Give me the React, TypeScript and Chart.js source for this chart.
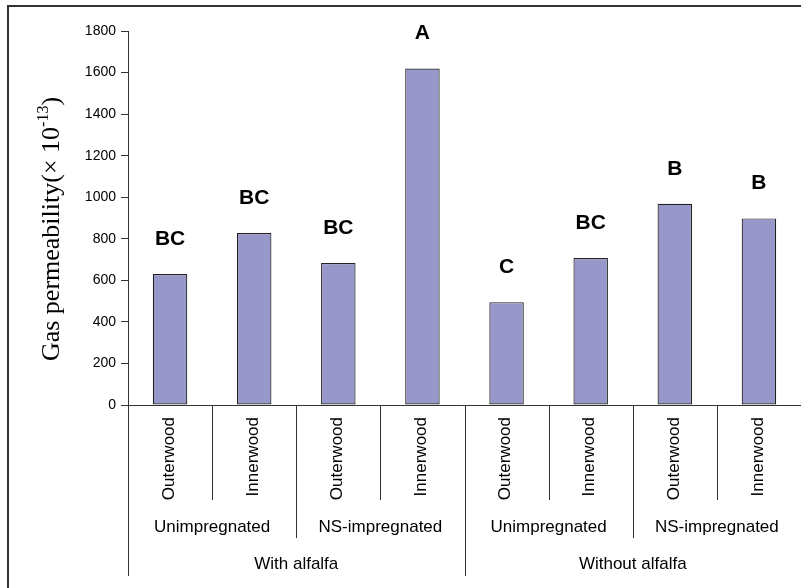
import React, { useEffect, useRef } from "react";
import { Chart, registerables } from "chart.js";

Chart.register(...registerables);

const categories = ["Outerwood", "Innerwood", "Outerwood", "Innerwood", "Outerwood", "Innerwood", "Outerwood", "Innerwood"];
const treatments = ["Unimpregnated", "Unimpregnated", "NS-impregnated", "NS-impregnated", "Unimpregnated", "Unimpregnated", "NS-impregnated", "NS-impregnated"];
const conditions = ["With alfalfa", "With alfalfa", "With alfalfa", "With alfalfa", "Without alfalfa", "Without alfalfa", "Without alfalfa", "Without alfalfa"];
const permeability = [630, 828, 683, 1619, 495, 707, 968, 898];
const letters = ["BC", "BC", "BC", "A", "C", "BC", "B", "B"];
const yMin = 0;
const yMax = 1800;
const yStep = 200;

const SANS = '"Liberation Sans", Arial, sans-serif';
const SERIF = '"Liberation Serif", "Times New Roman", serif';

function runs(arr: string[]) {
  const out: { label: string; start: number; end: number }[] = [];
  arr.forEach((v, i) => {
    const last = out[out.length - 1];
    if (last && last.label === v && last.end === i - 1) last.end = i;
    else out.push({ label: v, start: i, end: i });
  });
  return out;
}

const decorPlugin = {
  id: "decor",
  afterDraw(chart: any) {
    const { ctx, chartArea, scales } = chart;
    const x = scales.x;
    const y = scales.y;
    const n = categories.length;
    const cw = x.getPixelForValue(1) - x.getPixelForValue(0);
    const bx = (i: number) => x.getPixelForValue(0) - cw / 2 + i * cw;
    const y0 = y.getPixelForValue(0);
    ctx.save();

    // outer frame
    ctx.strokeStyle = "#333";
    ctx.lineWidth = 2;
    ctx.beginPath();
    ctx.moveTo(8, 588);
    ctx.lineTo(8, 6);
    ctx.lineTo(801, 6);
    ctx.stroke();

    // x axis line
    ctx.lineWidth = 1;
    ctx.strokeStyle = "#333";
    ctx.beginPath();
    ctx.moveTo(chartArea.left - 6, Math.round(y0) + 0.5);
    ctx.lineTo(chartArea.right, Math.round(y0) + 0.5);
    ctx.stroke();

    // separators
    const lvl1 = y0 + 95;
    const lvl2 = y0 + 133;
    const lvl3 = y0 + 171;
    for (let i = 0; i <= n; i++) {
      let bottom = lvl3;
      if (i > 0 && i < n) {
        if (conditions[i] !== conditions[i - 1]) bottom = lvl3;
        else if (treatments[i] !== treatments[i - 1]) bottom = lvl2;
        else bottom = lvl1;
      }
      const px = Math.round(bx(i)) + 0.5;
      ctx.beginPath();
      ctx.moveTo(px, y0);
      ctx.lineTo(px, bottom);
      ctx.stroke();
    }

    // wood labels (rotated)
    ctx.fillStyle = "#000";
    ctx.font = `17px ${SANS}`;
    categories.forEach((c, i) => {
      ctx.save();
      ctx.translate(x.getPixelForValue(i) - 1, y0 + 12);
      ctx.rotate(-Math.PI / 2);
      ctx.textAlign = "right";
      ctx.textBaseline = "middle";
      ctx.fillText(c, 0, 0);
      ctx.restore();
    });

    // group labels
    ctx.textAlign = "center";
    ctx.textBaseline = "middle";
    runs(treatments).forEach((r) => {
      const cx = (bx(r.start) + bx(r.end + 1)) / 2;
      ctx.fillText(r.label, cx, y0 + 122);
    });
    runs(conditions).forEach((r) => {
      const cx = (bx(r.start) + Math.min(bx(r.end + 1), 801)) / 2;
      ctx.fillText(r.label, cx, y0 + 159);
    });

    // significance letters
    ctx.font = `bold 21px ${SANS}`;
    letters.forEach((l, i) => {
      ctx.fillText(l, x.getPixelForValue(i), y.getPixelForValue(permeability[i]) - 35);
    });

    // y-axis title with superscript
    const main = "Gas permeability(× 10";
    const sup = "-13";
    const close = ")";
    ctx.font = `26px ${SERIF}`;
    const mw = ctx.measureText(main).width;
    const cwid = ctx.measureText(close).width;
    ctx.font = `16px ${SERIF}`;
    const sw = ctx.measureText(sup).width;
    const total = mw + sw + cwid;
    ctx.save();
    ctx.translate(59, 229);
    ctx.rotate(-Math.PI / 2);
    ctx.textAlign = "left";
    ctx.textBaseline = "alphabetic";
    const start = -total / 2;
    ctx.font = `26px ${SERIF}`;
    ctx.fillText(main, start, 0);
    ctx.font = `16px ${SERIF}`;
    ctx.fillText(sup, start + mw, -11);
    ctx.font = `26px ${SERIF}`;
    ctx.fillText(close, start + mw + sw, 0);
    ctx.restore();

    ctx.restore();
  },
};

export default function App() {
  const ref = useRef<HTMLCanvasElement>(null);
  useEffect(() => {
    if (!ref.current) return;
    const chart = new Chart(ref.current, {
      type: "bar",
      data: {
        labels: categories,
        datasets: [
          {
            data: permeability,
            backgroundColor: "#9797C9",
            borderColor: "#222222",
            borderWidth: 1.2,
            borderSkipped: false,
            barPercentage: 0.41,
            categoryPercentage: 1,
          },
        ],
      },
      options: {
        responsive: false,
        animation: false,
        devicePixelRatio: 1,
        layout: { padding: { left: 0, top: 31, right: 0, bottom: 183 } },
        plugins: { legend: { display: false }, tooltip: { enabled: false } },
        scales: {
          x: { display: false },
          y: {
            min: yMin,
            max: yMax,
            afterFit: (scale: any) => {
              scale.width = 128;
            },
            border: { display: true, color: "#333", width: 1 },
            grid: { display: true, drawOnChartArea: false, drawTicks: true, tickLength: 7, color: "#333" },
            ticks: {
              stepSize: yStep,
              padding: 5,
              color: "#000",
              font: { family: SANS, size: 14 },
              callback: (v: any) => String(v),
            },
          },
        },
      },
      plugins: [decorPlugin],
    });
    return () => chart.destroy();
  }, []);
  return (
    <canvas
      ref={ref}
      width={801}
      height={588}
      style={{ position: "absolute", left: 0, top: 0, width: 801, height: 588, display: "block" }}
    />
  );
}
